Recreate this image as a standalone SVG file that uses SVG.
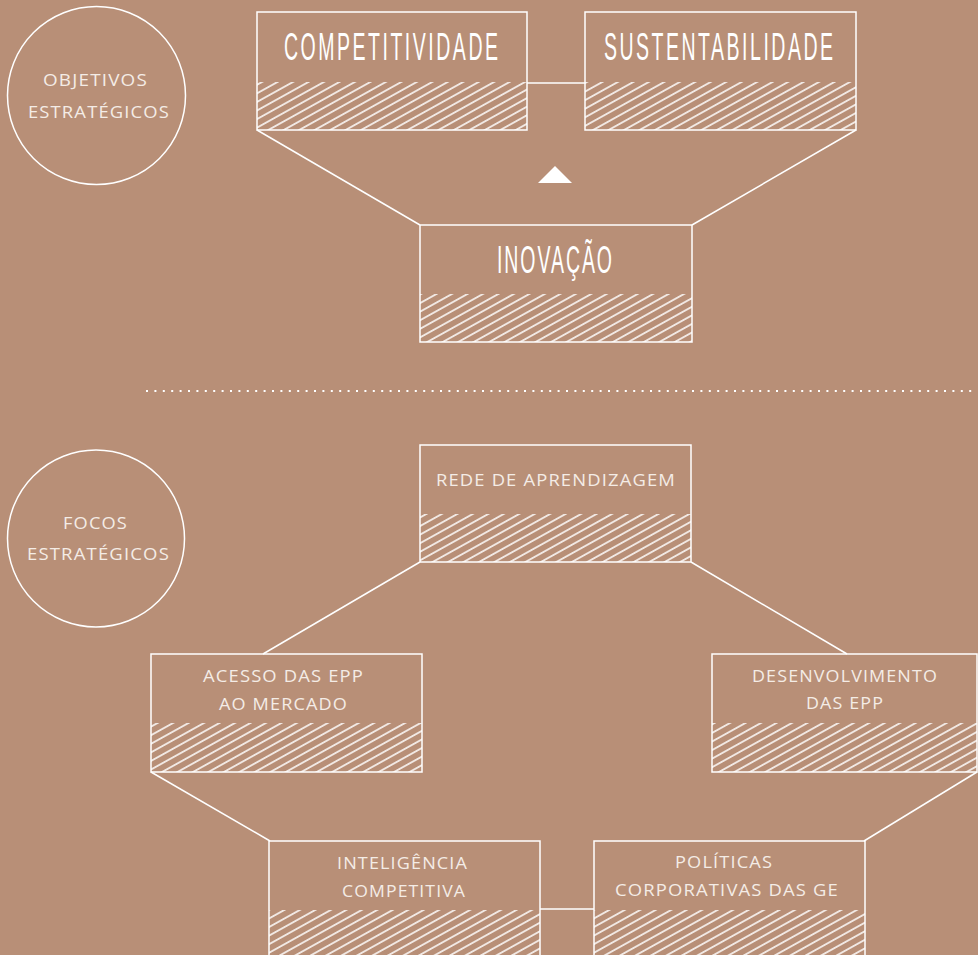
<svg xmlns="http://www.w3.org/2000/svg" width="978" height="955" viewBox="0 0 978 955">
  <defs>
    <pattern id="hatch" patternUnits="userSpaceOnUse" width="10" height="7.5" patternTransform="rotate(-29)">
      <line x1="-1" y1="3.75" x2="11" y2="3.75" stroke="#ffffff" stroke-width="1.5"/>
    </pattern>
    <style>
      .box { fill: none; stroke: #ffffff; stroke-width: 1.5; }
      .hatch { fill: url(#hatch); }
      .link { fill: none; stroke: #ffffff; stroke-width: 1.5; }
      .ring { fill: none; stroke: #ffffff; stroke-width: 1.5; }
      .big { font-family: "Liberation Sans", "DejaVu Sans", sans-serif; font-size: 39px; fill: #ffffff; text-anchor: middle; }
      .small { font-family: "Open Sans", "Liberation Sans", sans-serif; font-size: 16px; letter-spacing: 1px; fill: #f4ece6; text-anchor: middle; }
    </style>
  </defs>

  <rect width="978" height="955" fill="#b88f77"/>

  <!-- connectors -->
  <g id="connectors">
    <line class="link" x1="527" y1="83" x2="585" y2="83"/>
    <line class="link" x1="257" y1="130" x2="420" y2="225"/>
    <line class="link" x1="856" y1="130" x2="692" y2="225"/>
    <line class="link" x1="420" y1="562" x2="263" y2="654"/>
    <line class="link" x1="691" y1="562" x2="847" y2="654"/>
    <line class="link" x1="151" y1="772" x2="270" y2="841"/>
    <line class="link" x1="977" y1="772" x2="864" y2="841"/>
    <line class="link" x1="540" y1="909" x2="594" y2="909"/>
  </g>

  <!-- direction marker -->
  <polygon points="538,183 555,166 572,183" fill="#ffffff"/>

  <!-- section divider -->
  <line x1="146" y1="391" x2="976" y2="391" stroke="#ffffff" stroke-width="2" stroke-dasharray="2 6.4"/>

  <!-- section labels -->
  <g id="objetivos">
    <circle class="ring" cx="96.5" cy="95.5" r="89"/>
    <text class="small" x="95.5" y="86" textLength="105" lengthAdjust="spacingAndGlyphs">OBJETIVOS</text>
    <text class="small" x="99" y="118" textLength="142" lengthAdjust="spacingAndGlyphs">ESTRATÉGICOS</text>
  </g>
  <g id="focos">
    <circle class="ring" cx="96" cy="538.5" r="88.5"/>
    <text class="small" x="95.5" y="529" textLength="65" lengthAdjust="spacingAndGlyphs">FOCOS</text>
    <text class="small" x="98.5" y="560" textLength="143" lengthAdjust="spacingAndGlyphs">ESTRATÉGICOS</text>
  </g>

  <!-- strategic objectives (condensed titles: glyphs narrowed horizontally) -->
  <g id="competitividade">
    <rect class="hatch" x="257" y="82" width="270" height="48"/>
    <rect class="box" x="257" y="12" width="270" height="118"/>
    <text class="big" transform="translate(391 60) scale(0.5 1)" x="0" y="0" textLength="428" lengthAdjust="spacing">COMPETITIVIDADE</text>
  </g>
  <g id="sustentabilidade">
    <rect class="hatch" x="585" y="82" width="271" height="48"/>
    <rect class="box" x="585" y="12" width="271" height="118"/>
    <text class="big" transform="translate(718.5 60) scale(0.5 1)" x="0" y="0" textLength="458" lengthAdjust="spacing">SUSTENTABILIDADE</text>
  </g>
  <g id="inovacao">
    <rect class="hatch" x="420" y="294" width="272" height="48"/>
    <rect class="box" x="420" y="225" width="272" height="117"/>
    <text class="big" transform="translate(554.5 273) scale(0.5 1)" x="0" y="0" textLength="230" lengthAdjust="spacing">INOVAÇÃO</text>
  </g>

  <!-- strategic focuses -->
  <g id="rede">
    <rect class="hatch" x="420" y="514" width="271" height="48"/>
    <rect class="box" x="420" y="445" width="271" height="117"/>
    <text class="small" x="556" y="486" textLength="240" lengthAdjust="spacingAndGlyphs">REDE DE APRENDIZAGEM</text>
  </g>
  <g id="acesso">
    <rect class="hatch" x="151" y="723" width="271" height="49"/>
    <rect class="box" x="151" y="654" width="271" height="118"/>
    <text class="small" x="283.5" y="682" textLength="161" lengthAdjust="spacingAndGlyphs">ACESSO DAS EPP</text>
    <text class="small" x="283.5" y="710" textLength="129" lengthAdjust="spacingAndGlyphs">AO MERCADO</text>
  </g>
  <g id="desenvolvimento">
    <rect class="hatch" x="712" y="723" width="265" height="49"/>
    <rect class="box" x="712" y="654" width="265" height="118"/>
    <text class="small" x="845" y="682" textLength="186" lengthAdjust="spacingAndGlyphs">DESENVOLVIMENTO</text>
    <text class="small" x="845" y="709" textLength="78" lengthAdjust="spacingAndGlyphs">DAS EPP</text>
  </g>
  <g id="inteligencia">
    <rect class="hatch" x="269" y="910" width="271" height="60"/>
    <rect class="box" x="269" y="841" width="271" height="130"/>
    <text class="small" x="402.5" y="869" textLength="131" lengthAdjust="spacingAndGlyphs">INTELIGÊNCIA</text>
    <text class="small" x="404" y="897" textLength="124" lengthAdjust="spacingAndGlyphs">COMPETITIVA</text>
  </g>
  <g id="politicas">
    <rect class="hatch" x="594" y="910" width="271" height="60"/>
    <rect class="box" x="594" y="841" width="271" height="130"/>
    <text class="small" x="724" y="868" textLength="98" lengthAdjust="spacingAndGlyphs">POLÍTICAS</text>
    <text class="small" x="727" y="896" textLength="224" lengthAdjust="spacingAndGlyphs">CORPORATIVAS DAS GE</text>
  </g>
</svg>
